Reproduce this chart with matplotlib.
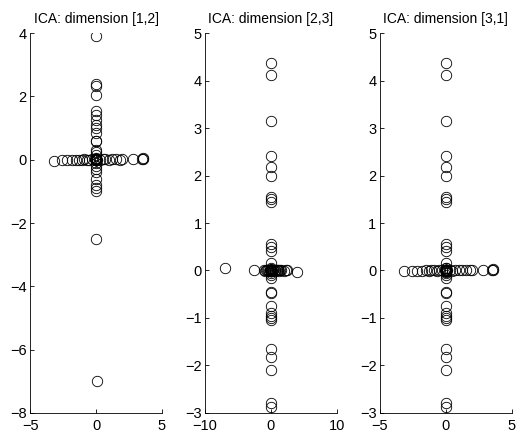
import matplotlib
matplotlib.use('Agg')
import matplotlib.pyplot as plt

plt.rcParams['font.family'] = ['Liberation Sans', 'DejaVu Sans']

# ICA components: three groups of samples, each with one component active

# group 1: component 1 spread out
s1_g1 = [-3.2, -2.6, -2.2, -1.8, -1.5, -1.3, -1.1, -0.9, -0.7, -0.5, -0.3, -0.1,
         0.1, 0.3, 0.5, 0.7, 1.0, 1.2, 1.5, 1.8, 2.0, 2.8, 3.5, 3.55, 3.6]
s2_g1 = [-0.03, -0.02, -0.02, -0.01, -0.02, 0.0, -0.01, 0.01, 0.0, -0.02, 0.01, 0.02,
         -0.01, 0.0, 0.02, 0.01, 0.0, 0.01, 0.02, 0.0, 0.01, 0.02, 0.03, 0.04, 0.02]
s3_g1 = [-0.02, -0.02, -0.01, -0.01, 0.0, -0.01, 0.0, 0.01, -0.01, 0.0, 0.01, 0.0,
         0.01, 0.0, -0.01, 0.0, 0.01, 0.02, 0.0, 0.01, 0.01, 0.02, 0.02, 0.03, 0.02]

# group 2: component 2 spread out
s2_g2 = [3.9, 2.38, 2.33, 2.03, 1.55, 1.4, 1.25, 1.1, 1.0, 0.85, 0.6, 0.58, 0.3,
         0.25, 0.15, 0.05, -0.1, -0.2, -0.3, -0.4, -0.6, -0.8, -0.9, -1.0, -2.5, -7.0]
s1_g2 = [0.0, 0.02, 0.0, -0.02, 0.01, 0.0, -0.01, 0.02, 0.0, 0.01, -0.01, 0.02, 0.0,
         0.01, -0.02, 0.0, 0.01, 0.0, -0.01, 0.02, 0.0, -0.02, 0.01, 0.0, 0.02, 0.05]
s3_g2 = [-0.03, 0.0, 0.01, -0.01, 0.0, 0.02, -0.01, 0.0, 0.01, 0.0, -0.02, 0.0, 0.01,
         0.0, -0.01, 0.0, 0.01, 0.0, -0.01, 0.0, 0.01, 0.0, -0.01, 0.0, 0.01, 0.05]

# group 3: component 3 spread out
s3_g3 = [4.38, 4.12, 3.15, 2.42, 2.18, 1.98, 1.55, 1.5, 1.45, 0.55, 0.5, 0.42, 0.15,
         0.05, -0.05, -0.1, -0.15, -0.45, -0.48, -0.75, -0.9, -0.95, -1.0, -1.05,
         -1.65, -1.82, -2.1, -2.8, -2.88]
s1_g3 = [0.01, 0.0, 0.02, -0.01, 0.0, 0.01, 0.0, -0.02, 0.01, 0.0, 0.02, -0.01, 0.0,
         0.01, 0.0, -0.01, 0.02, 0.0, 0.01, -0.01, 0.0, 0.01, 0.0, -0.02, 0.01, 0.0,
         0.02, 0.0, -0.01]
s2_g3 = [0.02, -0.01, 0.0, 0.01, -0.02, 0.0, 0.01, 0.0, -0.01, 0.02, 0.0, 0.01, 0.0,
         -0.01, 0.0, 0.02, 0.0, 0.01, -0.01, 0.0, 0.02, 0.0, -0.01, 0.01, 0.0, 0.02,
         0.0, -0.01, 0.01]

s1 = s1_g1 + s1_g2 + s1_g3
s2 = s2_g1 + s2_g2 + s2_g3
s3 = s3_g1 + s3_g2 + s3_g3

panels = [
    ('ICA: dimension [1,2]', s1, s2, (-5, 5), [-5, 0, 5], (-8, 4), [-8, -6, -4, -2, 0, 2, 4]),
    ('ICA: dimension [2,3]', s2, s3, (-10, 10), [-10, 0, 10], (-3, 5), [-3, -2, -1, 0, 1, 2, 3, 4, 5]),
    ('ICA: dimension [3,1]', s1, s3, (-5, 5), [-5, 0, 5], (-3, 5), [-3, -2, -1, 0, 1, 2, 3, 4, 5]),
]
lefts = [0.058, 0.395, 0.732]

fig = plt.figure(figsize=(5.19, 4.36), dpi=100)
for left, (title, xs, ys, xl, xt, yl, yt) in zip(lefts, panels):
    ax = fig.add_axes([left, 0.053, 0.254, 0.871])
    ax.plot(xs, ys, 'o', mfc='none', mec='black', ms=7.5, mew=0.6, ls='none')
    ax.set_xlim(xl)
    ax.set_ylim(yl)
    ax.set_xticks(xt)
    ax.set_yticks(yt)
    ax.spines['top'].set_visible(False)
    ax.spines['right'].set_visible(False)
    ax.spines['left'].set_linewidth(0.6)
    ax.spines['bottom'].set_linewidth(0.6)
    ax.tick_params(direction='in', length=3, width=0.6, labelsize=10.5)
    ax.tick_params(axis='x', pad=4.5)
    ax.tick_params(axis='y', pad=2.5)
    ax.set_title(title, fontsize=10, pad=7)

fig.savefig('out.png', dpi=100)
